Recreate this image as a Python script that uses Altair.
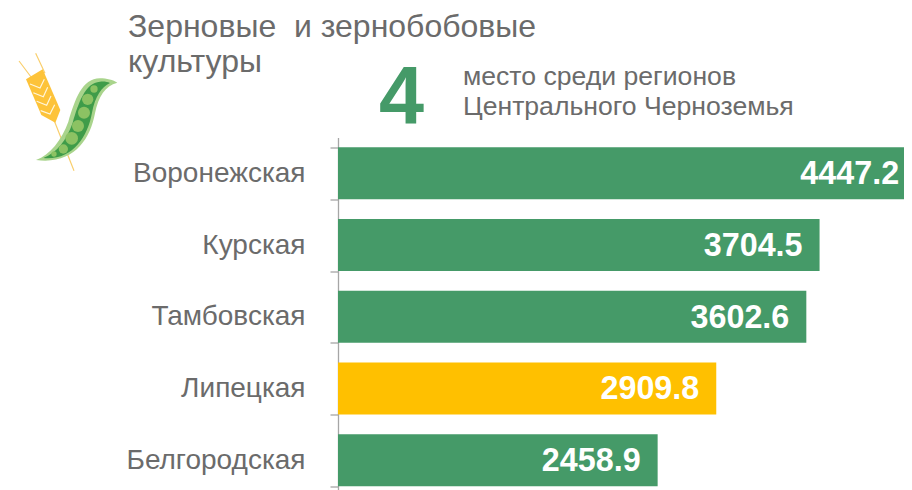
import base64
import altair as alt
import pandas as pd

regions = ["Воронежская", "Курская", "Тамбовская", "Липецкая", "Белгородская"]
values = [4447.2, 3704.5, 3602.6, 2909.8, 2458.9]
highlight = ["no", "no", "no", "yes", "no"]
x_limit = 4354
GREEN = "#459A68"
YELLOW = "#FFC000"
GREY = "#6B6B6B"
FONT = "Liberation Sans"

icon_svg = """<svg xmlns='http://www.w3.org/2000/svg' viewBox='0 150 390 375' width='130' height='125'>
<g fill='none' stroke='#F9CE6B' stroke-width='3.5'>
<path d='M57,183 L100,240'/><path d='M107,160 L135,220'/><path d='M150,330 L222,512'/></g>
<path d='M78,238 L128,208 L181,330 L166,368 L124,345 Z' fill='#FDC33A'/>
<g fill='none' stroke='#FFF6DC' stroke-width='3.5'>
<path d='M90,252 L120,264 L133,238'/><path d='M100,278 L130,290 L143,262'/><path d='M110,304 L140,316 L153,288'/><path d='M122,332 L150,342 L164,314'/></g>
<path d='M108,480 C150,465 185,420 205,365 C225,300 245,235 300,235 C320,235 340,240 352,248 C315,258 295,290 285,340 C270,420 220,495 108,480 Z' fill='#A9D48C'/>
<path d='M130,474 C170,458 200,420 218,368 C235,310 255,248 300,245 C315,244 322,246 330,249 C305,260 285,290 276,338 C262,415 215,482 130,474 Z' fill='#3F9C49'/>
<g fill='#8CC263'>
<circle cx='162' cy='462' r='8'/><circle cx='190' cy='447' r='14'/><circle cx='215' cy='415' r='19'/><circle cx='234' cy='378' r='18'/><circle cx='252' cy='338' r='18'/><circle cx='263' cy='298' r='17'/><circle cx='282' cy='267' r='11'/></g>
</svg>"""
icon_url = "data:image/svg+xml;base64," + base64.b64encode(icon_svg.encode()).decode()

df = pd.DataFrame({"region": regions, "value": values, "hl": highlight,
                   "label": [f"{v:.1f}" for v in values]})

y = alt.Y("region:N", sort=regions, title=None,
          scale=alt.Scale(range=[0, 358.5], paddingInner=0.275, paddingOuter=0.1375),
          axis=alt.Axis(tickBand="extent", tickSize=8, labelPadding=25, labelFontSize=28,
                        labelFont=FONT, labelColor=GREY, domainColor="#A6A6A6",
                        tickColor="#A6A6A6", domainWidth=1.3, tickWidth=1.3, grid=False,
                        labelLimit=300))
x = alt.X("value:Q", title=None, axis=None,
          scale=alt.Scale(domain=[0, x_limit], nice=False))

bars = alt.Chart(df).mark_bar(clip=True).encode(
    x=x, y=y,
    color=alt.Color("hl:N", legend=None,
                    scale=alt.Scale(domain=["no", "yes"], range=[GREEN, YELLOW])))

labels = alt.Chart(df).mark_text(align="right", baseline="middle", dx=-17, dy=1, font=FONT,
                                 fontWeight="bold", fontSize=32.3, color="white").encode(
    x=x, y=alt.Y("region:N", sort=regions), text="label:N")


def note(text, px, py, size, color=GREY, weight="normal"):
    return alt.Chart(pd.DataFrame({"t": [text]})).mark_text(
        align="left", baseline="alphabetic", font=FONT, fontSize=size, color=color,
        fontWeight=weight).encode(text="t:N", x=alt.value(px - 338), y=alt.value(py - 137.5))


notes = [
    note("Зерновые\u00a0\u00a0и зернобобовые", 128, 37, 32),
    note("культуры", 128, 72, 32),
    note("4", 379, 123, 81, GREEN, "bold"),
    note("место среди регионов", 463, 85, 26.6),
    note("Центрального Черноземья", 463, 115, 26.6),
]

icon = alt.Chart(pd.DataFrame({"u": [icon_url]})).mark_image(
    width=130, height=125, align="left", baseline="top").encode(
    url="u:N", x=alt.value(-338), y=alt.value(-87.5))

chart = alt.layer(bars, labels, *notes, icon).properties(
    width=566, height=352.5,
    padding={"left": 330, "top": 129.5, "right": 0, "bottom": 0},
    autosize=alt.AutoSizeParams(type="none"),
).configure_view(stroke=None)

chart.save("out.html", embed_options={"renderer": "svg", "actions": False})
